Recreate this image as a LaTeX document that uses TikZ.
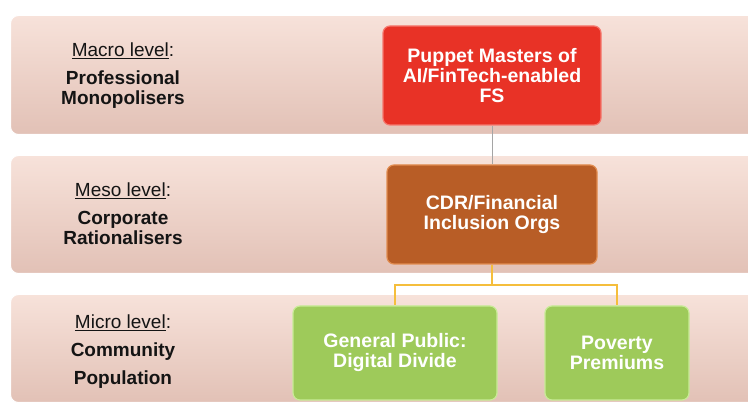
\documentclass[tikz,border=0pt]{standalone}
\usepackage{fontspec}
\setmainfont{Liberation Sans}
\definecolor{bandtop}{RGB}{247,226,218}
\definecolor{bandbot}{RGB}{226,193,182}
\definecolor{redbox}{RGB}{232,50,38}
\definecolor{redline}{RGB}{245,120,110}
\definecolor{orangebox}{RGB}{184,93,38}
\definecolor{orangeline}{RGB}{225,140,80}
\definecolor{greenbox}{RGB}{158,202,90}
\definecolor{greenline}{RGB}{200,235,150}
\definecolor{connA}{RGB}{165,165,165}
\definecolor{connB}{RGB}{245,190,60}
\definecolor{labeltext}{RGB}{20,20,20}
\tikzset{
  band/.style={rectangle, rounded corners=8pt, top color=bandtop, bottom color=bandbot, draw=white, line width=1pt, anchor=north west, inner sep=0pt},
  boxfont/.style={font=\fontsize{19.5}{20}\selectfont\bfseries, text=white, align=center},
  levelbox/.style={rectangle, rounded corners=7pt, inner sep=0pt, line width=1.2pt, boxfont},
  levellabel/.style={align=center, text=labeltext, font=\fontsize{19}{20}\selectfont},
}
\begin{document}
\begin{tikzpicture}[x=1pt,y=-1pt]
\useasboundingbox (0,0) rectangle (748,403);
\clip (0,0) rectangle (748,403);
\fill[white] (0,0) rectangle (748,403);
% bands
\node[band, minimum width=760pt, minimum height=119pt] (bandA) at (10,15) {};
\node[band, minimum width=760pt, minimum height=118pt] (bandB) at (10,155) {};
\node[band, minimum width=760pt, minimum height=108pt] (bandC) at (10,294) {};
% level labels
\node[levellabel] (macro) at (123,76) {\underline{Macro level}:\\[8pt]\textbf{Professional}\\\textbf{Monopolisers}};
\node[levellabel] (meso) at (123,214) {\underline{Meso level}:\\[8pt]\textbf{Corporate}\\\textbf{Rationalisers}};
\node[levellabel] (micro) at (123,352) {\underline{Micro level}:\\[8pt]\textbf{Community}\\[8pt]\textbf{Population}};
% boxes
\node[levelbox, fill=redbox, draw=redline, minimum width=218pt, minimum height=99pt] (puppet) at (492,75.5) {Puppet Masters of\\AI/FinTech-enabled\\FS};
\node[levelbox, fill=orangebox, draw=orangeline, minimum width=210pt, minimum height=99pt] (cdr) at (492,214.5) {CDR/Financial\\Inclusion Orgs};
\node[levelbox, fill=greenbox, draw=greenline, minimum width=204pt, minimum height=94pt] (public) at (395,353) {General Public:\\Digital Divide};
\node[levelbox, fill=greenbox, draw=greenline, minimum width=144pt, minimum height=94pt] (poverty) at (617,353) {Poverty\\Premiums};
% connectors
\draw[connA, line width=1pt] (puppet.south) -- (cdr.north);
\coordinate (fork) at (492,285);
\draw[connB, line width=1.2pt] (cdr.south) -- (fork);
\draw[connB, line width=1.2pt] (fork) -| (public.north);
\draw[connB, line width=1.2pt] (fork) -| (poverty.north);
\end{tikzpicture}
\end{document}
